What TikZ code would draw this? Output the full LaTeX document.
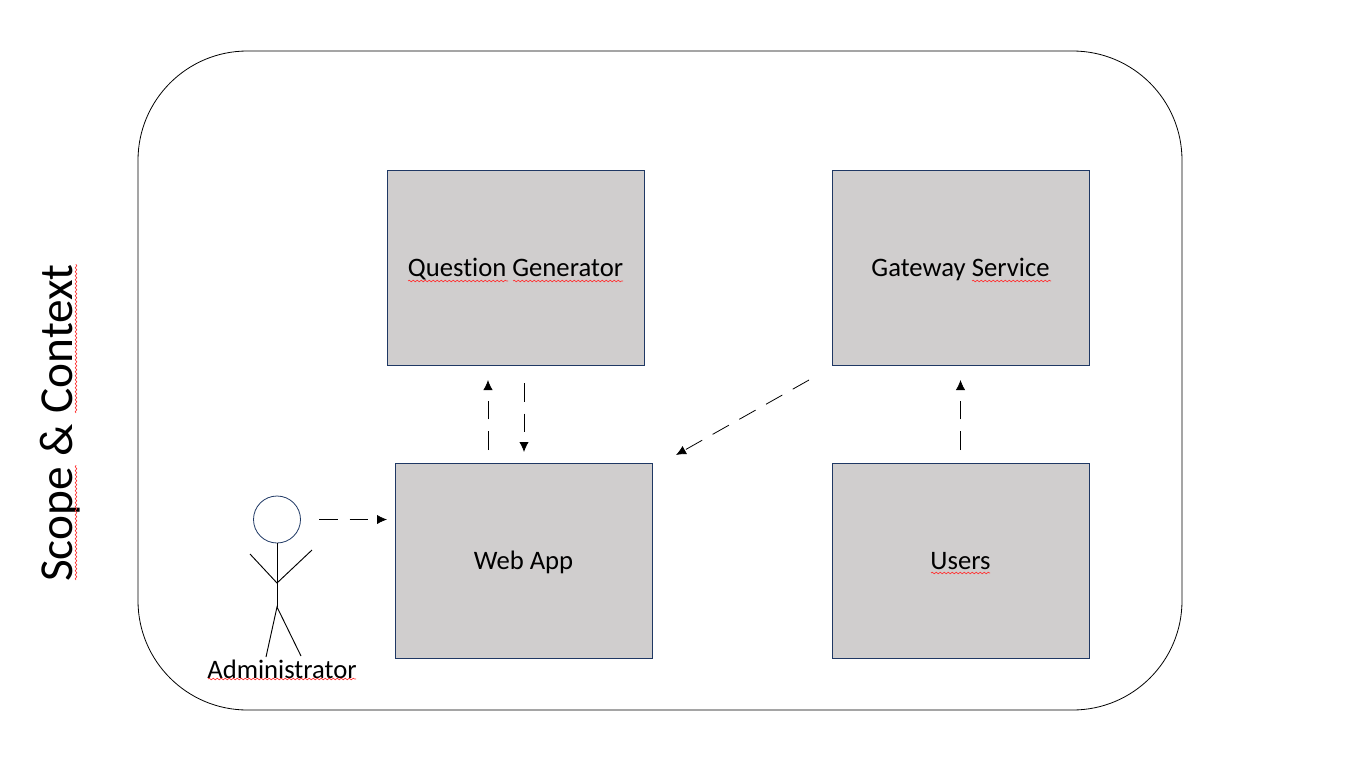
\documentclass[tikz,border=0pt]{standalone}
\usepackage{fontspec}
\setmainfont{Carlito}[Ligatures=NoCommon]
\usetikzlibrary{arrows.meta, decorations.pathmorphing}
\definecolor{boxfill}{HTML}{D0CECE}
\definecolor{boxline}{HTML}{1F3864}
\tikzset{
    compbox/.style={draw=boxline, fill=boxfill, line width=0.6pt, minimum width=192.75pt, minimum height=146.25pt, inner sep=0pt, text height=13.6pt, text depth=0pt, font=\fontsize{20}{24}\selectfont},
    flow/.style={-{Latex[length=7.5pt,width=7pt]}, dash pattern=on 14pt off 9pt, line width=0.6pt},
    limb/.style={line width=0.7pt},
    squiggle/.style={draw=red!80!white, line width=0.5pt, decorate, decoration={snake, amplitude=0.6pt, segment length=3pt}}
}

\begin{document}
\begin{tikzpicture}[x=0.75pt, y=-0.75pt]
    \useasboundingbox (0,0) rectangle (1357,757);
    \node[draw, line width=0.6pt, rounded corners=82pt, minimum width=783pt, minimum height=494.25pt, inner sep=0pt] (scope) at (660,380.5) {};
    \node[rotate=90, font=\fontsize{35.5}{42}\selectfont] (title) at (60,423) {Scope \& Context};
    \node[compbox] (question) at (515.5,267.5) {Question Generator};
    \node[compbox] (gateway) at (960.5,267.5) {Gateway Service};
    \node[compbox] (webapp) at (523.5,560.5) {Web App};
    \node[compbox] (users) at (960.5,560.5) {Users};
    % stick figure
    \node[draw=boxline, circle, line width=0.6pt, minimum size=35.25pt, inner sep=0pt] (head) at (277,519.5) {};
    \coordinate (hip) at (277,607);
    \coordinate (neck) at (277,583);
    \draw[limb] (head.south) -- (hip);
    \draw[limb] (250,554) -- (neck) -- (312,550);
    \draw[limb] (266,657) -- (hip) -- (301,656);
    \node[font=\fontsize{20}{24}\selectfont] (admin) at (282,669) {Administrator};
    % arrows
    \coordinate (adminout) at (319,519.5);
    \coordinate (webin) at (387,519.5);
    \coordinate (webup) at (488,450);
    \coordinate (questionin) at (488,380);
    \coordinate (questionout) at (524,383);
    \coordinate (webdown) at (524,452);
    \coordinate (gatewayout) at (809,380);
    \coordinate (webside) at (676,455);
    \coordinate (usersup) at (960.5,450);
    \coordinate (gatewayin) at (960.5,380);
    \draw[flow] (adminout) -- (webin);
    \draw[flow] (webup) -- (questionin);
    \draw[flow] (questionout) -- (webdown);
    \draw[flow] (gatewayout) -- (webside);
    \draw[flow] (usersup) -- (gatewayin);
    % spell check marks
    \foreach \xa/\xb/\yy in {408/508/281, 513/623/281, 972/1051/281, 931/990/573, 208/356/679}{
        \draw[squiggle] (\xa,\yy) -- (\xb,\yy);
    }
    \foreach \ya/\yb in {580/465, 413/264}{
        \draw[squiggle] (76,\ya) -- (76,\yb);
    }
\end{tikzpicture}
\end{document}
